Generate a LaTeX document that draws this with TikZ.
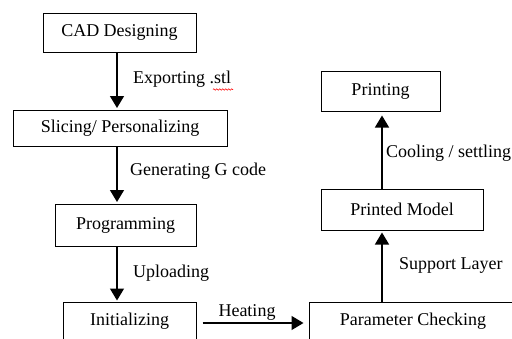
\documentclass[tikz,border=0pt]{standalone}
\usepackage{fontspec}
\setmainfont{Liberation Serif}
\newfontfamily\diagfont{Liberation Serif}
\usetikzlibrary{arrows.meta,decorations.pathmorphing}
\begin{document}
\begin{tikzpicture}[x=1pt,y=-1pt,
  box/.style={draw,line width=1pt,inner sep=0pt,font=\diagfont\fontsize{18}{20}\selectfont},
  lbl/.style={inner sep=0pt,font=\diagfont\fontsize{18}{20}\selectfont},
  flow/.style={line width=1.4pt,-{Triangle[width=14pt,length=12pt]}}]
\useasboundingbox (0,0) rectangle (512,338);
\clip (0,0) rectangle (512,338);
\fill[white] (0,0) rectangle (512,338);
% boxes
\node[box,minimum width=153pt,minimum height=39pt] (cad) at (119.5,32.5) {CAD Designing};
\node[box,minimum width=214pt,minimum height=36pt] (slice) at (120,128) {Slicing/ Personalizing};
\node[box,minimum width=141pt,minimum height=42pt] (prog) at (125.5,225) {Programming};
\node[box,minimum width=133pt,minimum height=38pt] (init) at (129.5,321) {Initializing};
\node[box,minimum width=208pt,minimum height=38pt] (param) at (413,321) {Parameter Checking};
\node[box,minimum width=162pt,minimum height=41pt] (model) at (402,209.5) {Printed Model};
\node[box,minimum width=119pt,minimum height=40pt] (print) at (380.5,91) {Printing};
% axes for the vertical connectors
\coordinate (ax) at (117,0);
\coordinate (bx) at (382,0);
% connectors
\draw[flow,shorten >=1.5pt] (cad.south -| ax) -- (slice.north -| ax);
\draw[flow,shorten >=1.5pt] (slice.south -| ax) -- (prog.north -| ax);
\draw[flow,shorten >=1pt] (prog.south -| ax) -- (init.north -| ax);
\draw[flow,shorten <=6pt,shorten >=5pt] ([yshift=-2pt]init.east) -- ([yshift=-2pt]init.east -| param.west);
\draw[flow,shorten >=2pt] (param.north -| bx) -- (model.south -| bx);
\draw[flow,shorten >=4pt] (model.north -| bx) -- (print.south -| bx);
% labels
\node[lbl,anchor=west] (l1) at (133,79) {Exporting .stl};
\node[lbl,anchor=west] (l2) at (130,171) {Generating G code};
\node[lbl,anchor=west] (l3) at (133,273) {Uploading};
\node[lbl] (l4) at (247,312) {Heating};
\node[lbl,anchor=west] (l5) at (386,153) {Cooling / settling};
\node[lbl,anchor=west] (l6) at (399,265) {Support Layer};
% spell-check squiggle under "stl"
\draw[red,line width=0.6pt,decorate,decoration={zigzag,segment length=3pt,amplitude=0.8pt}] (213,89.5) -- (233,89.5);
\end{tikzpicture}
\end{document}
